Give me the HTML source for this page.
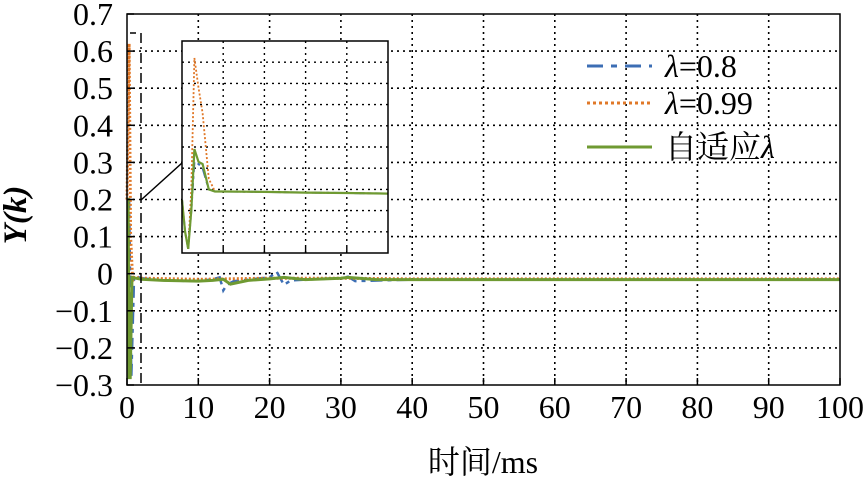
<!DOCTYPE html>
<html><head><meta charset="utf-8"><style>
html,body{margin:0;padding:0;background:#fff;}
svg text{font-family:"Liberation Serif","Times New Roman","Noto Serif CJK SC",serif;}
</style></head><body>
<svg id="chart" width="866" height="479" viewBox="0 0 866 479" style="display:block">
<g id="grid"></g>
<g id="series"></g>
<g id="axes"></g>
<g id="inset"></g>
<g id="legend"></g>
<text x="26" y="215" transform="rotate(-90 26 215)" text-anchor="middle" style="font-size:33px;font-weight:bold;font-style:italic">Y(k)</text>
<text x="483" y="473" text-anchor="middle" style="font-size:32px">时间/ms</text>
</svg>
<script>
const xTicks=[0,10,20,30,40,50,60,70,80,90,100];
const yTicks=[0.7,0.6,0.5,0.4,0.3,0.2,0.1,0,-0.1,-0.2,-0.3];
const yTickLabels=["0.7","0.6","0.5","0.4","0.3","0.2","0.1","0","\u22120.1","\u22120.2","\u22120.3"];
const tBlue=[0,0.3,0.6,1,2,5,10,12,13,13.5,14,15,20,21,22,23,25,30,31,32,40,50,60,70,80,90,100];
const yBlue=[0.2,0.2,-0.28,-0.005,-0.012,-0.018,-0.02,-0.015,-0.01,-0.045,-0.03,-0.02,-0.01,0.005,-0.03,-0.018,-0.016,-0.012,-0.008,-0.02,-0.016,-0.016,-0.016,-0.016,-0.016,-0.016,-0.016];
const tOrange=[0,0.3,0.5,0.8,1,2,10,20,30,40,50,60,70,80,90,100];
const yOrange=[0.2,0.62,0.1,-0.02,-0.01,-0.012,-0.015,-0.012,-0.012,-0.014,-0.014,-0.014,-0.014,-0.014,-0.014,-0.014];
const tGreen=[0,0.15,0.3,0.45,0.7,2,5,10,12,13.5,14.5,17,20,22,25,30,31,35,40,50,60,70,80,90,100];
const yGreen=[0.2,0.2,-0.28,-0.28,-0.01,-0.015,-0.018,-0.02,-0.018,-0.015,-0.028,-0.018,-0.014,-0.01,-0.016,-0.012,-0.01,-0.016,-0.016,-0.016,-0.016,-0.016,-0.016,-0.016,-0.016];
const tInset=[0,0.015,0.03,0.045,0.06,0.08,0.1,0.13,0.16,0.2,0.4,0.6,0.8,1];
const yInsetGreen=[0.25,0.1,0.02,0.2,0.49,0.43,0.42,0.3,0.29,0.29,0.288,0.285,0.283,0.28];
const yInsetOrange=[0.25,0.1,0.02,0.3,0.92,0.78,0.66,0.35,0.29,0.29,0.288,0.285,0.283,0.28];
const yInsetBlue=[0.25,0.1,0.02,0.2,0.43,0.42,0.4,0.3,0.29,0.29,0.288,0.285,0.283,0.28];

const NS="http://www.w3.org/2000/svg";
const L=127,R=840,T=14,B=385;
const xS=v=>L+(v-0)/100*(R-L);
const yS=v=>T+(0.7-v)/1.0*(B-T);
function mk(tag,attrs,parent){const e=document.createElementNS(NS,tag);for(const k in attrs)e.setAttribute(k,attrs[k]);parent.appendChild(e);return e;}
const grid=document.getElementById('grid'),axes=document.getElementById('axes'),ser=document.getElementById('series'),ins=document.getElementById('inset'),leg=document.getElementById('legend');
xTicks.forEach((v,i)=>{
  if(i>0&&i<xTicks.length-1){const g=mk('line',{x1:xS(v),x2:xS(v),y1:T,y2:B,stroke:'#000','stroke-width':1.6,'stroke-dasharray':'2 4'},grid);
  
  }
  const tk=mk('line',{x1:xS(v),x2:xS(v),y1:B,y2:B-7,stroke:'#000','stroke-width':1.5},axes);
  
  
  const t=mk('text',{x:xS(v),y:B+33,'text-anchor':'middle',style:'font-size:32px'},axes);t.textContent=String(v);
  
  
});
yTicks.forEach((v,i)=>{
  if(i>0&&i<yTicks.length-1){const g=mk('line',{x1:L,x2:R,y1:yS(v),y2:yS(v),stroke:'#000','stroke-width':1.6,'stroke-dasharray':'2 4'},grid);
  
  }
  const tk=mk('line',{x1:L,x2:L+7,y1:yS(v),y2:yS(v),stroke:'#000','stroke-width':1.5},axes);
  
  
  const t=mk('text',{x:113,y:yS(v)+11,'text-anchor':'end',style:'font-size:32px'},axes);t.textContent=yTickLabels[i];
  
  
});
const frame=mk('rect',{x:L,y:T,width:R-L,height:B-T,fill:'none',stroke:'#000','stroke-width':1.5},axes);


function path(ts,ys,fx,fy){return ts.map((t,i)=>(i?'L':'M')+fx(t).toFixed(1)+' '+fy(ys[i]).toFixed(1)).join(' ');}
const pb=mk('path',{d:path(tBlue,yBlue,xS,yS),fill:'none',stroke:'#3c6eb4','stroke-width':2.5,'stroke-dasharray':'12 5 4 5'},ser);


const po=mk('path',{d:path(tOrange,yOrange,xS,yS),fill:'none',stroke:'#e07828','stroke-width':3,'stroke-dasharray':'2 2'},ser);


const pg=mk('path',{d:path(tGreen,yGreen,xS,yS),fill:'none',stroke:'#6f9a32','stroke-width':3},ser);


const zl=mk('line',{x1:141,x2:141,y1:33,y2:385,stroke:'#000','stroke-width':1.5,'stroke-dasharray':'10 4 2 4'},ins);


const zt=mk('line',{x1:130,x2:136,y1:33,y2:33,stroke:'#000','stroke-width':1.5},ins);


const cn=mk('line',{x1:141,y1:200,x2:182,y2:163,stroke:'#000','stroke-width':1.5},ins);


const IL=182,IR=388,IT=41,IB=253;
const ix=v=>IL+v*(IR-IL), iy=v=>IB-v*(IB-IT);
const ibg=mk('rect',{x:IL,y:IT,width:IR-IL,height:IB-IT,fill:'#fff'},ins);


for(let k=1;k<5;k++){const g=mk('line',{x1:ix(k/5),x2:ix(k/5),y1:IT,y2:IB,stroke:'#000','stroke-width':1.4,'stroke-dasharray':'2 4'},ins);


const tk=mk('line',{x1:ix(k/5),x2:ix(k/5),y1:IB,y2:IB-6,stroke:'#000','stroke-width':1.4},ins);

}
for(let k=1;k<10;k++){const g=mk('line',{x1:IL,x2:IR,y1:iy(k/10),y2:iy(k/10),stroke:'#000','stroke-width':1.4,'stroke-dasharray':'2 4'},ins);

}
const ib=mk('path',{d:path(tInset,yInsetBlue,ix,iy),fill:'none',stroke:'#3c6eb4','stroke-width':2,'stroke-dasharray':'10 4 3 4'},ins);


const io=mk('path',{d:path(tInset,yInsetOrange,ix,iy),fill:'none',stroke:'#e07828','stroke-width':1.8,'stroke-dasharray':'2 2'},ins);


const ig=mk('path',{d:path(tInset,yInsetGreen,ix,iy),fill:'none',stroke:'#6f9a32','stroke-width':2.2},ins);


const ifr=mk('rect',{x:IL,y:IT,width:IR-IL,height:IB-IT,fill:'none',stroke:'#000','stroke-width':1.5},ins);


const legItems=[["","=0.8",'#3c6eb4','16 8 6 8',66],["","=0.99",'#e07828','3 3',103],["\u81ea\u9002\u5e94","",'#6f9a32','',147]];
legItems.forEach(it=>{
  const g=mk('g',{},leg);
  
  
  const a={x1:587,x2:652,y1:it[4],y2:it[4],stroke:it[2],'stroke-width':3};if(it[3])a['stroke-dasharray']=it[3];
  mk('line',a,g);
  const t=mk('text',{x:665,y:it[4]+11,style:'font-size:32px'},g);
  if(it[0]){const s0=mk('tspan',{},t);s0.textContent=it[0];}
  const s1=mk('tspan',{'font-style':'italic'},t);s1.textContent='\u03bb';
  if(it[1]){const s2=mk('tspan',{},t);s2.textContent=it[1];}
});
</script>
</body></html>
